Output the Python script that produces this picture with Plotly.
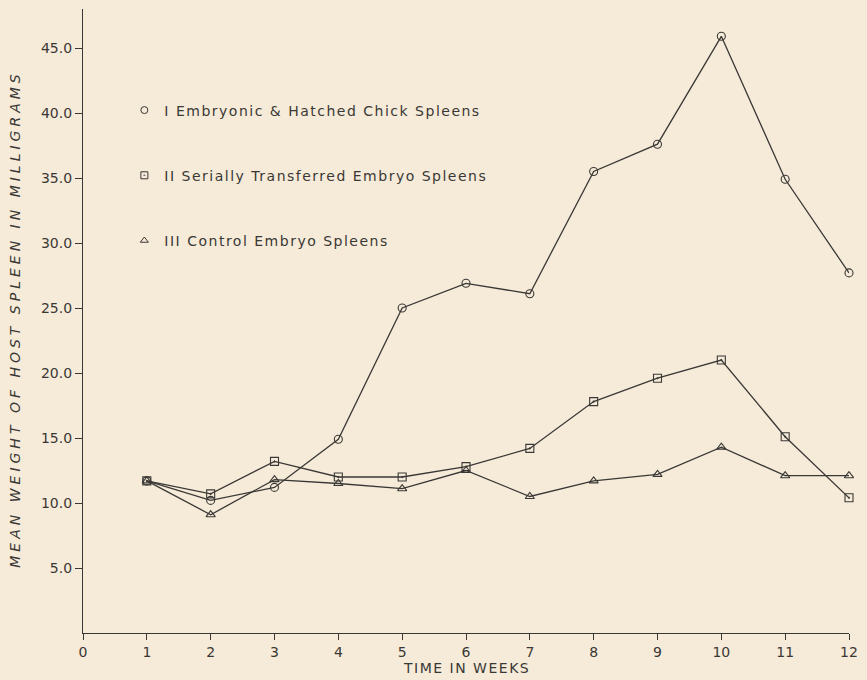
import plotly.graph_objects as go

weeks = [1, 2, 3, 4, 5, 6, 7, 8, 9, 10, 11, 12]
series_I = [11.7, 10.2, 11.2, 14.9, 25.0, 26.9, 26.1, 35.5, 37.6, 45.9, 34.9, 27.7]
series_II = [11.7, 10.7, 13.2, 12.0, 12.0, 12.8, 14.2, 17.8, 19.6, 21.0, 15.1, 10.4]
series_III = [11.7, 9.1, 11.8, 11.5, 11.1, 12.5, 10.5, 11.7, 12.2, 14.3, 12.1, 12.1]

names = ["I Embryonic & Hatched Chick Spleens",
         "II Serially Transferred Embryo Spleens",
         "III Control Embryo Spleens"]
symbols = ["circle-open", "square-open-dot", "triangle-up-open"]
x_ticks = list(range(0, 13))
y_ticks = [5, 10, 15, 20, 25, 30, 35, 40, 45]
y_tick_text = ["5.0", "10.0", "15.0", "20.0", "25.0", "30.0", "35.0", "40.0", "45.0"]

ink = "#3a3836"
bg = "#f6ebd8"

fig = go.Figure()
for vals, sym in zip([series_I, series_II, series_III], symbols):
    fig.add_trace(go.Scatter(
        x=weeks, y=vals, mode="lines+markers",
        line=dict(color=ink, width=1.3),
        marker=dict(symbol=sym, size=8, color=ink, line=dict(width=1.1, color=ink)),
        showlegend=False, cliponaxis=False))

for i, (nm, sym) in enumerate(zip(names, symbols)):
    fig.add_trace(go.Scatter(
        x=[None], y=[None], mode="markers",
        name='<span style="letter-spacing:1.5px">%s</span>' % nm,
        legendgroup="g%d" % i,
        marker=dict(symbol=sym, size=7, color=ink, line=dict(width=1, color=ink)),
        showlegend=True))

fig.update_layout(
    width=867, height=680,
    margin=dict(l=83, r=10, t=9, b=47),
    paper_bgcolor=bg, plot_bgcolor=bg,
    font=dict(family="DejaVu Sans", color="#3a3836", size=13),
    legend=dict(x=0.054, y=0.863, xanchor="left", yanchor="top",
                bgcolor="rgba(0,0,0,0)", traceorder="grouped",
                tracegroupgap=44, font=dict(size=14, color="#3a3836"),
                itemwidth=30),
    xaxis=dict(range=[0, 12], tickvals=x_ticks, ticktext=[str(v) for v in x_ticks],
               showgrid=False, zeroline=False, showline=True, linecolor=ink, linewidth=1.3,
               ticks="outside", ticklen=6, tickcolor=ink, tickwidth=1.3,
               tickfont=dict(size=14, color="#3a3836")),
    yaxis=dict(range=[0, 48], tickvals=y_ticks, ticktext=y_tick_text,
               showgrid=False, zeroline=False, showline=True, linecolor=ink, linewidth=1.3,
               ticks="outside", ticklen=7, tickcolor=ink, tickwidth=1.3,
               tickfont=dict(size=14, color="#3a3836")),
    annotations=[
        dict(text='<span style="letter-spacing:4px"><i>MEAN WEIGHT OF HOST SPLEEN IN MILLIGRAMS</i></span>',
             xref="paper", yref="paper",
             x=-0.088, y=0.503, xanchor="center", yanchor="middle", textangle=-90,
             showarrow=False, font=dict(size=14, color="#3a3836")),
        dict(text='<span style="letter-spacing:1.5px">TIME IN WEEKS</span>', xref="paper", yref="paper",
             x=0.5, y=-0.056, xanchor="center", yanchor="middle",
             showarrow=False, font=dict(size=14, color="#3a3836")),
    ],
)

fig.write_html("out.html", config={"displayModeBar": False},
               post_script="document.body.style.margin='0';document.body.style.background='%s';" % bg)
